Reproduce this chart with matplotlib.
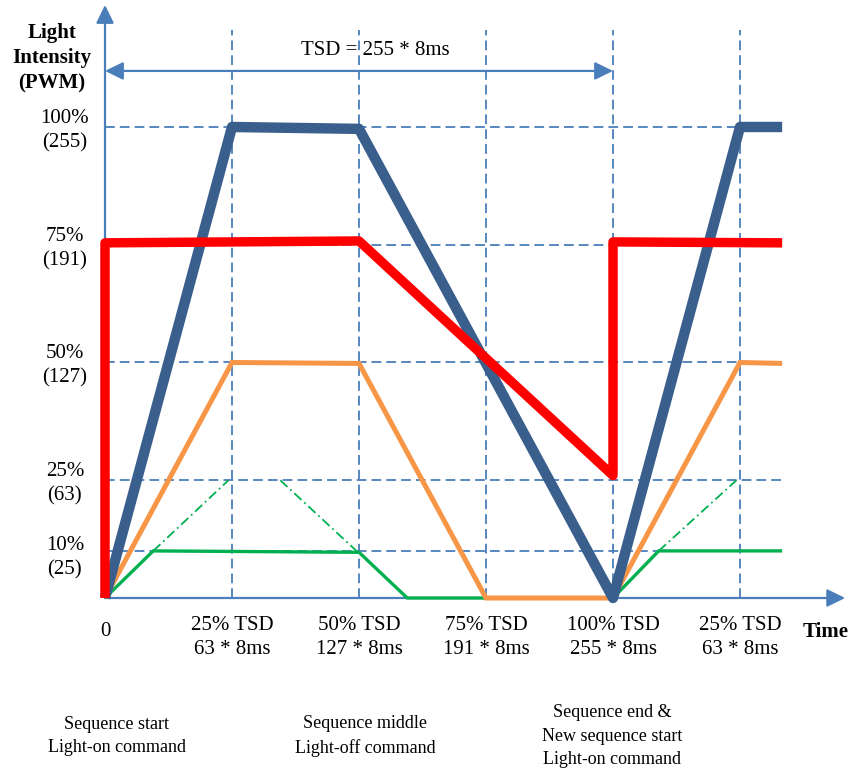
import matplotlib
matplotlib.use("Agg")
import matplotlib.pyplot as plt

# ---------------- data ----------------
# x in % of TSD, y in % of max light intensity
blue_x = [0, 25, 50, 100, 125, 133.3]
blue_y = [0, 100, 99.6, 0, 100, 100]

red_x = [0, 0, 50, 100, 100, 133.3]
red_y = [0, 75.4, 75.8, 26, 75.6, 75.4]

orange_x = [0, 25, 50, 75, 100, 125, 133.3]
orange_y = [0, 50, 49.8, 0, 0, 50, 49.8]

green_x = [0, 9.5, 50, 59.5, 100, 109, 133.3]
green_y = [0, 10, 9.7, 0, 0, 10, 10]

green_dd1_x = [9.5, 24.3]
green_dd1_y = [10, 25]
green_dd2_x = [34.5, 49.5]
green_dd2_y = [25, 10]
green_dd3_x = [109, 124.3]
green_dd3_y = [10, 25]

ytick_vals = [100, 75, 50, 25, 10]
ytick_labels = ["100%\n(255)", "75%\n(191)", "50%\n(127)", "25%\n(63)", "10%\n(25)"]

xtick_vals = [25, 50, 75, 100, 125]
xtick_labels = ["25% TSD\n63 * 8ms", "50% TSD\n127 * 8ms", "75% TSD\n191 * 8ms",
                "100% TSD\n255 * 8ms", "25% TSD\n63 * 8ms"]

event_x = [2.3, 51.2, 99.8]
event_labels = ["Sequence start\nLight-on command",
                "Sequence middle\nLight-off command",
                "Sequence end &\nNew sequence start\nLight-on command"]

# ---------------- figure ----------------
fig = plt.figure(figsize=(8.51, 7.71), dpi=100)
ax = fig.add_axes([0, 0, 1, 1])
ax.set_xlim(-20.67, 146.85)
ax.set_ylim(-36.73, 126.96)
ax.axis("off")

serif = ["Liberation Serif", "DejaVu Serif"]
axc = "#4A7EBB"
grid_ls = (0, (5.4, 2.8))

# grid
for xv in xtick_vals:
    ax.plot([xv, xv], [0, 120.6], color=axc, lw=1.3, ls=grid_ls, zorder=1)
for yv in ytick_vals:
    ax.plot([0, 133.8], [yv, yv], color=axc, lw=1.3, ls=grid_ls, zorder=1)

# axes arrows
arrow_kw = dict(arrowstyle="-|>,head_length=0.55,head_width=0.27", color=axc,
                lw=1.6, shrinkA=0, shrinkB=0, mutation_scale=20)
ax.annotate("", xy=(0, 125.9), xytext=(0, 0), arrowprops=arrow_kw, zorder=2)
ax.annotate("", xy=(145.7, 0), xytext=(0, 0), arrowprops=arrow_kw, zorder=2)

# TSD double arrow
tsd_kw = dict(arrowstyle="<|-|>,head_length=0.55,head_width=0.27", color=axc,
              lw=1.6, shrinkA=0, shrinkB=0, mutation_scale=20)
ax.annotate("", xy=(100, 111.9), xytext=(0, 111.9), arrowprops=tsd_kw, zorder=2)
ax.text(53.3, 116.3, "TSD = 255 * 8ms", ha="center", va="center",
        fontsize=15, family=serif)

# series
ax.plot(green_x, green_y, color="#00B050", lw=2.4, zorder=3,
        solid_joinstyle="miter", solid_capstyle="butt")
dd = (0, (5.4, 2.1, 1.0, 2.1))
for gx, gy in [(green_dd1_x, green_dd1_y), (green_dd2_x, green_dd2_y), (green_dd3_x, green_dd3_y)]:
    ax.plot(gx, gy, color="#00B050", lw=1.3, ls=dd, zorder=3)
ax.plot(orange_x, orange_y, color="#F79646", lw=3.6, zorder=4,
        solid_joinstyle="miter", solid_capstyle="butt")
ax.plot(blue_x, blue_y, color="#3A5F8D", lw=7.5, zorder=5,
        solid_joinstyle="round", solid_capstyle="butt")
ax.plot(red_x, red_y, color="#FF0000", lw=6.8, zorder=6,
        solid_joinstyle="round", solid_capstyle="butt")

# y labels
for yv, lab in zip(ytick_vals, ytick_labels):
    off = -1.5 if yv == 10 else -0.75
    ax.text(-7.9, yv + off, lab, ha="center", va="center", fontsize=15,
            family=serif, linespacing=1.37)

# x labels
ax.text(0, -7.2, "0", ha="center", va="center", fontsize=15, family=serif)
for xv, lab in zip(xtick_vals, xtick_labels):
    ax.text(xv, -8.3, lab, ha="center", va="center", fontsize=15,
            family=serif, linespacing=1.37)

# axis titles
ax.text(-10.5, 114.6, "Light\nIntensity\n(PWM)", ha="center", va="center",
        fontsize=15, fontweight="bold", family=serif, linespacing=1.37)
ax.text(137.4, -7.2, "Time", ha="left", va="center", fontsize=15,
        fontweight="bold", family=serif)

# event labels
for ex, lab in zip(event_x, event_labels):
    ax.text(ex, -29.3, lab, ha="center", va="center", fontsize=13,
            family=serif, linespacing=1.52)

fig.savefig("out.png", dpi=100)
